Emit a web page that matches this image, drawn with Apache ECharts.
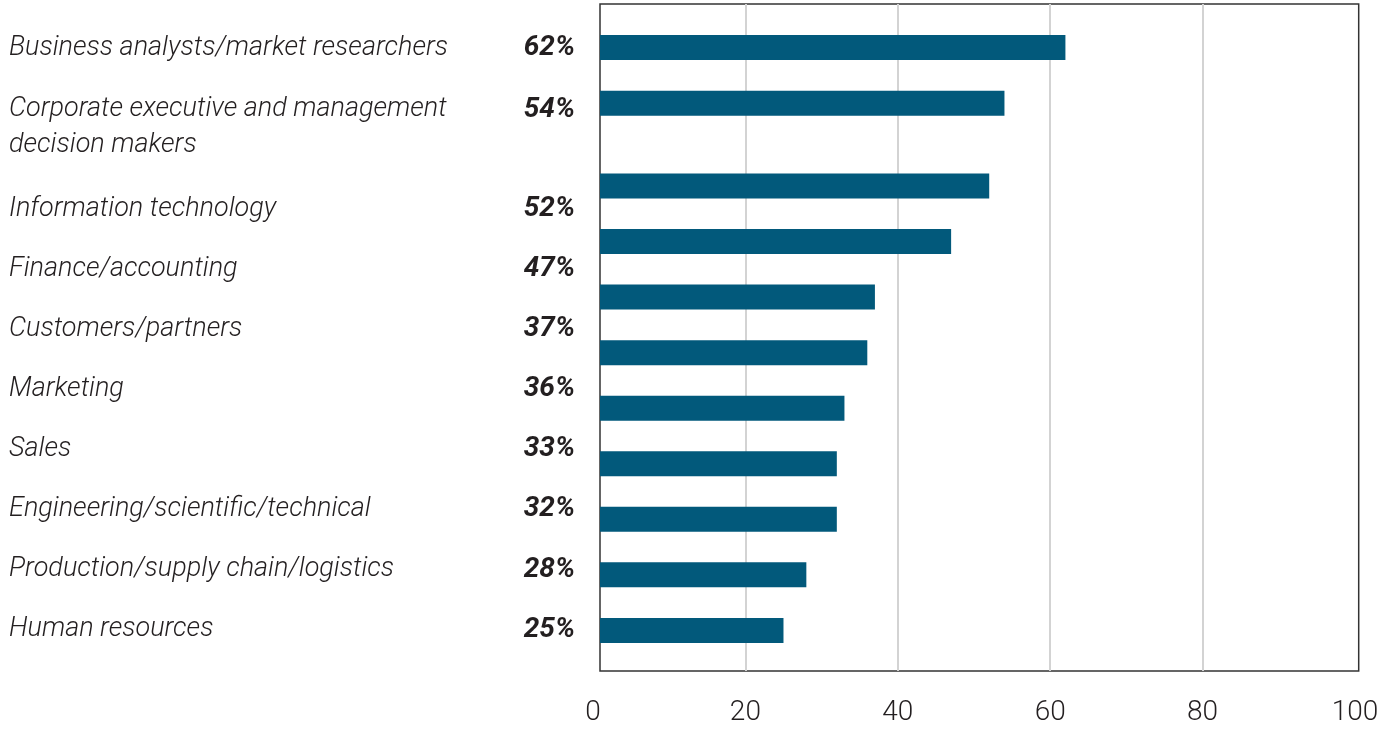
<!DOCTYPE html>
<html>
<head>
<meta charset="utf-8">
<script src="https://cdn.jsdelivr.net/npm/echarts@6.0.0/dist/echarts.min.js"></script>
<style>
  html, body { margin: 0; padding: 0; background: #fff; }
  #main { width: 1393px; height: 729px; }
</style>
</head>
<body>
<div id="main"></div>
<script>
// labels on the left (name + share)
var labelNames = [
  'Business analysts/market researchers',
  'Corporate executive and management\ndecision makers',
  'Information technology',
  'Finance/accounting',
  'Customers/partners',
  'Marketing',
  'Sales',
  'Engineering/scientific/technical',
  'Production/supply chain/logistics',
  'Human resources'
];
var labelPcts = [62, 54, 52, 47, 37, 36, 33, 32, 28, 25];

// bars (the picture has 11 bars, top two sit a bit apart from the rest)
var barsTop = [62, 54];
var barsRest = [52, 47, 37, 36, 33, 32, 32, 28, 25];

var xTicks = [0, 20, 40, 60, 80, 100];

var barColor = '#02597b';
var textColor = '#231f20';

// the frame starts a few px right of the 0 line, so bar axes cover 0.92..100.49
var barMin = 0.92;
var barMax = 100.49;

function indexCats(arr) {
  return arr.map(function (v, i) { return String(i); });
}

function labelFormatter(pcts) {
  return function (value, index) {
    var lines = value.split('\n');
    var s = '{n|' + lines[0] + '}{p|' + pcts[index] + '%}';
    for (var i = 1; i < lines.length; i++) {
      s += '\n{n|' + lines[i] + '}';
    }
    return s;
  };
}

var richLabels = {
  n: {
    width: 500, align: 'left', lineHeight: 36,
    fontFamily: 'Roboto', fontSize: 27, fontWeight: 300, fontStyle: 'italic', color: textColor
  },
  p: {
    width: 66, align: 'right', lineHeight: 36,
    fontFamily: 'Roboto', fontSize: 28, fontWeight: 700, fontStyle: 'italic', color: textColor
  }
};

function labelAxis(grid, names, pcts) {
  return {
    type: 'category', gridIndex: grid, inverse: true, data: names,
    axisLine: { show: false }, axisTick: { show: false }, splitLine: { show: false },
    axisLabel: {
      interval: 0, margin: 25,
      formatter: labelFormatter(pcts),
      rich: richLabels
    }
  };
}

var chartDom = document.getElementById('main');
var myChart = echarts.init(chartDom);
var option;

option = {
  animation: false,
  grid: [
    { left: 593, right: 38, top: 4, bottom: 58 },                    // 0 ticks + gridlines
    { left: 600, right: 34.3, top: 4, bottom: 58, show: true,         // 1 frame
      borderColor: '#333', borderWidth: 1.5, backgroundColor: 'transparent' },
    { left: 600, right: 34.3, top: 19.6, height: 111.4 },             // 2 top bars
    { left: 600, right: 34.3, top: 158.2, height: 500 },              // 3 other bars
    { left: 600, right: 34.3, top: 8.4, height: 159 },                // 4 top labels
    { left: 600, right: 34.3, top: 178.9, height: 480.8 }             // 5 other labels
  ],
  xAxis: [
    {
      type: 'value', gridIndex: 0, min: xTicks[0], max: xTicks[xTicks.length - 1], interval: 20,
      axisLine: { show: false }, axisTick: { show: false },
      splitLine: { show: true, showMinLine: false, showMaxLine: false,
        lineStyle: { color: '#d3d3d3', width: 2 } },
      axisLabel: { margin: 28, fontFamily: 'Roboto', fontSize: 28, fontWeight: 300, color: textColor }
    },
    { type: 'value', gridIndex: 1, show: false },
    { type: 'value', gridIndex: 2, min: barMin, max: barMax, show: false },
    { type: 'value', gridIndex: 3, min: barMin, max: barMax, show: false },
    { type: 'value', gridIndex: 4, show: false },
    { type: 'value', gridIndex: 5, show: false }
  ],
  yAxis: [
    { type: 'value', gridIndex: 0, show: false },
    { type: 'value', gridIndex: 1, show: false },
    { type: 'category', gridIndex: 2, inverse: true, data: indexCats(barsTop), show: false },
    { type: 'category', gridIndex: 3, inverse: true, data: indexCats(barsRest), show: false },
    labelAxis(4, labelNames.slice(0, 2), labelPcts.slice(0, 2)),
    labelAxis(5, labelNames.slice(2), labelPcts.slice(2))
  ],
  series: [
    {
      type: 'bar', xAxisIndex: 2, yAxisIndex: 2, data: barsTop,
      barWidth: 25, clip: true, silent: true, itemStyle: { color: barColor }
    },
    {
      type: 'bar', xAxisIndex: 3, yAxisIndex: 3, data: barsRest,
      barWidth: 25, clip: true, silent: true, itemStyle: { color: barColor }
    }
  ]
};

option && myChart.setOption(option);
</script>
</body>
</html>
